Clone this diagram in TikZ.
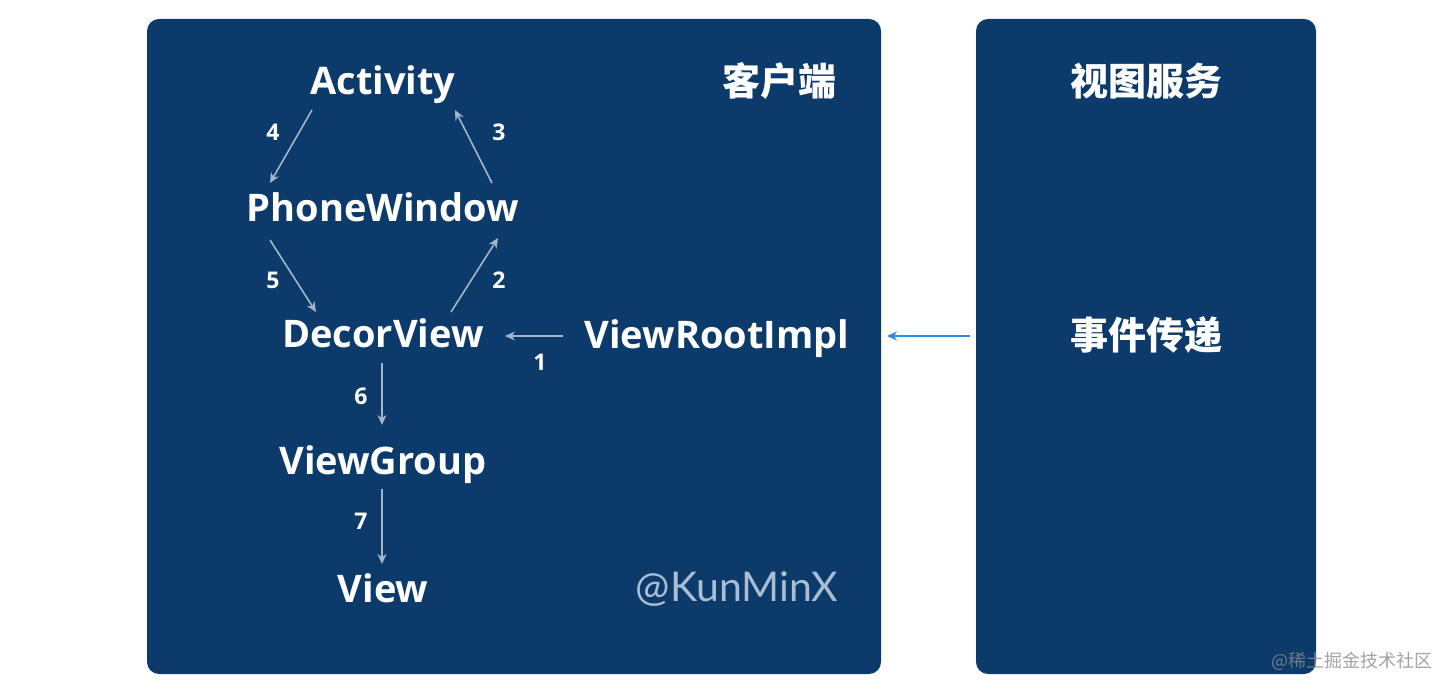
\documentclass[tikz,border=0pt]{standalone}
\usepackage{fontspec}
\setmainfont{Open Sans}
\newfontfamily\cjk{Noto Sans CJK SC}
\newfontfamily\wmfont{Lato}
\usetikzlibrary{arrows.meta}
\definecolor{panel}{HTML}{0C3A6B}
\definecolor{arr}{HTML}{A3B5C9}
\definecolor{bluearr}{HTML}{2B8BE8}
\definecolor{wm}{HTML}{AABDD3}
\tikzset{
  panelbox/.style={fill=panel, rounded corners=12pt, draw=none},
  lbl/.style={text=white, font=\fontsize{38}{42}\selectfont\bfseries, inner sep=0pt, anchor=base},
  cjklbl/.style={text=white, font=\fontsize{38}{42}\selectfont\cjk\bfseries, inner sep=0pt},
  num/.style={text=white, font=\fontsize{23}{26}\selectfont\bfseries, inner sep=0pt},
  flow/.style={draw=arr, line width=1.6pt, -{Stealth[length=10pt,width=9pt]}},
  bflow/.style={draw=bluearr, line width=1.6pt, -{Stealth[length=10pt,width=9pt]}}
}
\begin{document}
\begin{tikzpicture}[x=1pt,y=-1pt]
\useasboundingbox (0,0) rectangle (1454,692);
\fill[white] (0,0) rectangle (1454,692);
\path[panelbox] (147,19) rectangle (881,674);
\path[panelbox] (976,19) rectangle (1316,674);

\node[lbl] (act) at (383,95) {Activity};
\node[lbl] (pw) at (383,222) {PhoneWindow};
\node[lbl] (dv) at (383,348) {DecorView};
\node[lbl] (vg) at (383,475) {ViewGroup};
\node[lbl] (v) at (383,602) {View};
\node[lbl] (vri) at (717,349) {ViewRootImpl};
\node[cjklbl] (client) at (779,81) {客户端};
\node[cjklbl] (svc) at (1146,81) {视图服务};
\node[cjklbl] (evt) at (1146,335) {事件传递};
\node[text=wm, font=\fontsize{41}{44}\selectfont\wmfont, inner sep=0pt] (wmk) at (737,589) {@KunMinX};
\node[text=black!45, font=\fontsize{18}{20}\selectfont\cjk, inner sep=0pt, opacity=0.8] (jj) at (1352,661) {@稀土掘金技术社区};

\coordinate (a4s) at (312,110); \coordinate (a4e) at (270,183);
\coordinate (a3s) at (492,183); \coordinate (a3e) at (455,110);
\coordinate (a5s) at (270,240); \coordinate (a5e) at (316,312);
\coordinate (a2s) at (451,312); \coordinate (a2e) at (498,238);
\coordinate (a1s) at (563,336); \coordinate (a1e) at (505,336);
\coordinate (a6s) at (382,363); \coordinate (a6e) at (382,425);
\coordinate (a7s) at (382,489); \coordinate (a7e) at (382,564);
\coordinate (bs) at (970,336); \coordinate (be) at (887,336);

\draw[flow] (a4s) -- (a4e);
\draw[flow] (a3s) -- (a3e);
\draw[flow] (a5s) -- (a5e);
\draw[flow] (a2s) -- (a2e);
\draw[flow] (a1s) -- (a1e);
\draw[flow] (a6s) -- (a6e);
\draw[flow] (a7s) -- (a7e);
\draw[bflow] (bs) -- (be);

\node[num] (n4) at (273,132) {4};
\node[num] (n3) at (499,132) {3};
\node[num] (n5) at (273,280) {5};
\node[num] (n2) at (499,280) {2};
\node[num] (n1) at (540,362) {1};
\node[num] (n6) at (361,396) {6};
\node[num] (n7) at (361,521) {7};
\end{tikzpicture}
\end{document}
